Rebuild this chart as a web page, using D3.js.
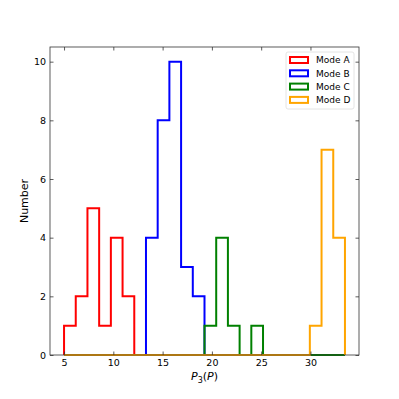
<!DOCTYPE html>
<html>
<head>
<meta charset="utf-8">
<script src="https://cdn.jsdelivr.net/npm/d3@7"></script>
<style>
  body { margin: 0; background: #fff; }
  svg { font-family: "DejaVu Sans", sans-serif; }
</style>
</head>
<body>
<svg id="chart" width="399" height="399"></svg>
<script>
// shared bin edges (24 bins from 5 to 33.5)
const binStart = 5;
const binEnd = 33.5;
const nBins = 24;

const modeNames = ["Mode A", "Mode B", "Mode C", "Mode D"];
const modeColors = ["red", "blue", "green", "orange"];

// counts per bin
const countsA = [1, 2, 5, 1, 4, 2, 0, 0, 0, 0, 0, 0, 0, 0, 0, 0, 0, 0, 0, 0, 0, 0, 0, 0];
const countsB = [0, 0, 0, 0, 0, 0, 0, 4, 8, 10, 3, 2, 0, 0, 0, 0, 0, 0, 0, 0, 0, 0, 0, 0];
const countsC = [0, 0, 0, 0, 0, 0, 0, 0, 0, 0, 0, 0, 1, 4, 1, 0, 1, 0, 0, 0, 0, 0, 0, 0];
const countsD = [0, 0, 0, 0, 0, 0, 0, 0, 0, 0, 0, 0, 0, 0, 0, 0, 0, 0, 0, 0, 0, 1, 7, 4];
const allCounts = [countsA, countsB, countsC, countsD];

const xTicks = [5, 10, 15, 20, 25, 30];
const yTicks = [0, 2, 4, 6, 8, 10];

const mLeft = 50, mRight = 359, mTop = 47, mBottom = 355;
const svg = d3.select("#chart");

const x = d3.scaleLinear().domain([3.575, 34.925]).range([mLeft, mRight]);
const y = d3.scaleLinear().domain([0, 10.5]).range([mBottom, mTop]);

const binW = (binEnd - binStart) / nBins;

// step outline like matplotlib histtype="step"
function stepPoints(counts) {
  const pts = [[binStart, 0]];
  counts.forEach((c, i) => {
    pts.push([binStart + i * binW, c]);
    pts.push([binStart + (i + 1) * binW, c]);
  });
  pts.push([binEnd, 0]);
  return pts;
}

const line = d3.line().x(d => x(d[0])).y(d => y(d[1]));

allCounts.forEach((counts, k) => {
  svg.append("path")
    .attr("d", line(stepPoints(counts)))
    .attr("fill", "none")
    .attr("stroke", modeColors[k])
    .attr("stroke-width", 2)
    .attr("stroke-linejoin", "miter");
});

// axes, ticks pointing inward on all sides
const axisColor = "#333";
const tl = 3.5;

const gx = svg.append("g").attr("transform", `translate(0,${mBottom})`)
  .call(d3.axisBottom(x).tickValues(xTicks).tickSizeInner(-tl).tickSizeOuter(0).tickPadding(4));
const gxTop = svg.append("g").attr("transform", `translate(0,${mTop})`)
  .call(d3.axisTop(x).tickValues(xTicks).tickSizeInner(-tl).tickSizeOuter(0).tickFormat(""));
const gy = svg.append("g").attr("transform", `translate(${mLeft},0)`)
  .call(d3.axisLeft(y).tickValues(yTicks).tickSizeInner(-tl).tickSizeOuter(0).tickPadding(4));
const gyRight = svg.append("g").attr("transform", `translate(${mRight},0)`)
  .call(d3.axisRight(y).tickValues(yTicks).tickSizeInner(-tl).tickSizeOuter(0).tickFormat(""));

[gx, gxTop, gy, gyRight].forEach(g => {
  g.select(".domain").remove();
  g.selectAll(".tick line").attr("stroke", axisColor).attr("stroke-width", 0.8);
  g.selectAll(".tick text").attr("fill", "#000").style("font-size", "9.5px")
    .style("font-family", "DejaVu Sans, sans-serif");
});

// spine frame on top of the histograms
svg.append("rect")
  .attr("x", mLeft).attr("y", mTop)
  .attr("width", mRight - mLeft).attr("height", mBottom - mTop)
  .attr("fill", "none").attr("stroke", axisColor).attr("stroke-width", 0.8);

// axis labels
svg.append("text")
  .attr("transform", `translate(28,${(mTop + mBottom) / 2}) rotate(-90)`)
  .attr("text-anchor", "middle")
  .style("font-size", "11px")
  .text("Number");

const xl = svg.append("text")
  .attr("x", (mLeft + mRight) / 2)
  .attr("y", 380)
  .attr("text-anchor", "middle")
  .style("font-size", "11px");
xl.append("tspan").style("font-style", "italic").text("P");
xl.append("tspan").attr("dy", 3).style("font-size", "8px").text("3");
xl.append("tspan").attr("dy", -3).text("(");
xl.append("tspan").style("font-style", "italic").text("P");
xl.append("tspan").text(")");

// legend
const lg = svg.append("g");
lg.append("rect")
  .attr("x", 286).attr("y", 52).attr("width", 68).attr("height", 57)
  .attr("rx", 2).attr("fill", "#fff").attr("fill-opacity", 0.8)
  .attr("stroke", "#ddd").attr("stroke-width", 0.8);

modeNames.forEach((name, i) => {
  const cy = 60 + i * 13.3;
  lg.append("rect")
    .attr("x", 290).attr("y", cy - 3).attr("width", 18).attr("height", 6)
    .attr("fill", "none").attr("stroke", modeColors[i]).attr("stroke-width", 2);
  lg.append("text")
    .attr("x", 316).attr("y", cy + 3.3)
    .style("font-size", "9px")
    .text(name);
});
</script>
</body>
</html>
